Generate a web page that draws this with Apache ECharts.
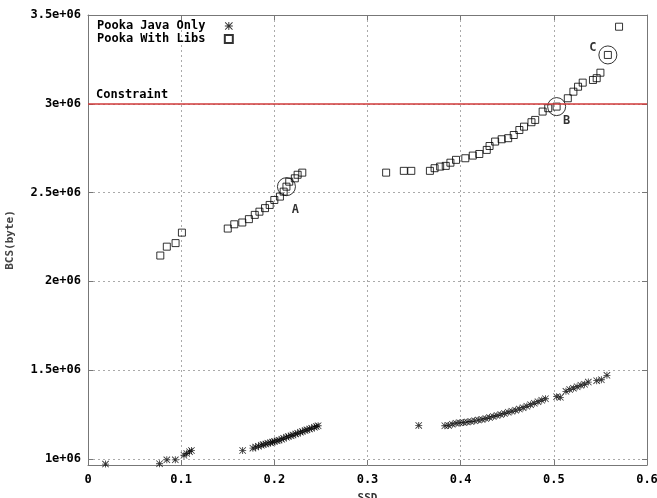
<!DOCTYPE html>
<html>
<head>
<meta charset="utf-8">
<script src="https://cdn.jsdelivr.net/npm/echarts@6.0.0/dist/echarts.min.js"></script>
<style>
html, body {margin:0; padding:0; background:#fff;}
#main {width:657px; height:498px;}
</style>
</head>
<body>
<div id="main"></div>
<script>
// Pooka Java Only (stars)
var javaOnlyX = [0.0188, 0.0768, 0.0846, 0.0937, 0.103, 0.106, 0.109, 0.111, 0.166,
	0.177, 0.180, 0.183, 0.186, 0.188, 0.191, 0.193, 0.196, 0.198, 0.200, 0.203, 0.205, 0.208, 0.210,
	0.213, 0.215, 0.218, 0.220, 0.223, 0.225, 0.228, 0.230, 0.233, 0.235, 0.238, 0.240, 0.243, 0.245, 0.247,
	0.355, 0.383, 0.387, 0.391, 0.395, 0.399, 0.403, 0.407, 0.411, 0.415, 0.419, 0.423, 0.427, 0.431,
	0.435, 0.439, 0.443, 0.447, 0.451, 0.455, 0.459, 0.463, 0.467, 0.471, 0.475, 0.479, 0.483, 0.487,
	0.491, 0.503, 0.507, 0.513, 0.517, 0.521, 0.525, 0.529, 0.533, 0.537, 0.546, 0.551, 0.557];
var javaOnlyY = [970000, 972000, 994000, 994000, 1020000, 1030000, 1040000, 1047000, 1047000,
	1060000, 1066000, 1070000, 1076000, 1080000, 1083000, 1088000, 1091000, 1094000, 1097000, 1101000, 1105000, 1110000, 1115000,
	1121000, 1125000, 1130000, 1134000, 1140000, 1144000, 1150000, 1154000, 1160000, 1163000, 1168000, 1172000, 1178000, 1182000, 1186000,
	1188000, 1186000, 1188000, 1195000, 1200000, 1203000, 1205000, 1207000, 1210000, 1214000, 1218000, 1222000, 1227000, 1232000,
	1238000, 1244000, 1250000, 1255000, 1262000, 1268000, 1274000, 1280000, 1288000, 1296000, 1305000, 1313000, 1322000, 1330000,
	1338000, 1350000, 1346000, 1380000, 1390000, 1398000, 1406000, 1414000, 1420000, 1432000, 1440000, 1445000, 1470000];

// Pooka With Libs (squares)
var withLibsX = [0.0776, 0.0846, 0.094, 0.1008,
	0.150, 0.157, 0.1656, 0.1727, 0.179, 0.184, 0.190, 0.195, 0.200, 0.206, 0.210, 0.213, 0.216, 0.222, 0.225, 0.230,
	0.320, 0.339, 0.347, 0.367, 0.372, 0.378, 0.384, 0.389, 0.395, 0.405, 0.413, 0.420, 0.428, 0.431, 0.437,
	0.444, 0.451, 0.457, 0.463, 0.468, 0.476, 0.480, 0.488, 0.494, 0.503, 0.515, 0.521, 0.526, 0.531,
	0.542, 0.546, 0.550, 0.558, 0.570];
var withLibsY = [2145000, 2195000, 2215000, 2274000,
	2297000, 2321000, 2331000, 2350000, 2374000, 2392000, 2412000, 2430000, 2458000, 2477000, 2505000, 2533000, 2561000, 2580000, 2600000, 2612000,
	2612000, 2622000, 2622000, 2622000, 2637000, 2646000, 2650000, 2668000, 2684000, 2693000, 2708000, 2717000, 2740000, 2762000, 2787000,
	2800000, 2806000, 2824000, 2852000, 2871000, 2896000, 2909000, 2956000, 2975000, 2984000, 3031000, 3068000, 3096000, 3119000,
	3134000, 3144000, 3175000, 3275000, 3434000];

// circled points
var markX = [0.213, 0.503, 0.558];
var markY = [2533000, 2984000, 3275000];
var markNames = ['A', 'B', 'C'];
var markLabelOffset = [[9, 23], [10, 14], [-15, -7]];

var yTicks = [1000000, 1500000, 2000000, 2500000, 3000000, 3500000];
var constraintValue = 3000000;

var monoFont = 'DejaVu Sans Mono';

function zip(xs, ys) {
	var out = [];
	for (var i = 0; i < xs.length; i++) {
		out.push([xs[i], ys[i]]);
	}
	return out;
}

function yLabel(v) {
	var m = v / 1000000;
	return m + 'e+06';
}

// asterisk made from 4 thin bars
var starPath = 'path://M0,4.4L10,4.4L10,5.6L0,5.6Z M4.4,0L5.6,0L5.6,10L4.4,10Z M0.8,0L10,9.2L9.2,10L0,0.8Z M9.2,0L10,0.8L0.8,10L0,9.2Z';

var markData = [];
for (var i = 0; i < markX.length; i++) {
	markData.push({
		value: [markX[i], markY[i]],
		name: markNames[i],
		label: {offset: markLabelOffset[i]}
	});
}

var chart = echarts.init(document.getElementById('main'));
var axisLineStyle = {color: '#777', width: 1};
var gridLineStyle = {color: '#aaa', type: [2, 3], width: 1};

chart.setOption({
	backgroundColor: '#fff',
	animation: false,
	grid: {left: 88, right: 10, top: 15, bottom: 33, containLabel: false, outerBoundsMode: 'none'},
	legend: {
		data: ['Pooka Java Only', 'Pooka With Libs'],
		orient: 'vertical',
		left: 92,
		top: 15,
		align: 'right',
		itemGap: 1,
		itemWidth: 8,
		itemHeight: 8,
		formatter: function (n) { return n + '  '; },
		textStyle: {fontFamily: monoFont, fontSize: 12, fontWeight: 'bold', color: '#000'}
	},
	xAxis: [{
		type: 'value',
		min: 0,
		max: 0.6,
		interval: 0.1,
		name: 'SSD',
		nameLocation: 'middle',
		nameGap: 28,
		nameTextStyle: {fontFamily: monoFont, fontSize: 11, fontWeight: 'bold', color: '#333'},
		axisLine: {show: true, lineStyle: axisLineStyle},
		axisTick: {show: true, inside: true, length: 5, lineStyle: axisLineStyle},
		axisLabel: {
			margin: 9,
			fontFamily: monoFont, fontSize: 12, fontWeight: 'bold', color: '#000',
			formatter: function (v) { return v === 0 ? '0' : v.toFixed(1); }
		},
		splitLine: {show: true, lineStyle: gridLineStyle}
	}, {
		type: 'value',
		position: 'top',
		min: 0,
		max: 0.6,
		interval: 0.1,
		axisLine: {show: true, onZero: false, lineStyle: axisLineStyle},
		axisTick: {show: true, inside: true, length: 5, lineStyle: axisLineStyle},
		axisLabel: {show: false},
		splitLine: {show: false}
	}],
	yAxis: [{
		type: 'value',
		min: 965000,
		max: 3500000,
		name: 'BCS(byte)',
		nameLocation: 'middle',
		nameGap: 72,
		nameTextStyle: {fontFamily: monoFont, fontSize: 11, fontWeight: 'bold', color: '#444'},
		axisLine: {show: true, onZero: false, lineStyle: axisLineStyle},
		axisTick: {show: true, inside: true, length: 5, customValues: yTicks, lineStyle: axisLineStyle},
		axisLabel: {
			customValues: yTicks,
			margin: 7,
			fontFamily: monoFont, fontSize: 12, fontWeight: 'bold', color: '#000',
			formatter: yLabel
		},
		splitLine: {show: true, lineStyle: gridLineStyle}
	}, {
		type: 'value',
		position: 'right',
		min: 965000,
		max: 3500000,
		axisLine: {show: true, onZero: false, lineStyle: axisLineStyle},
		axisTick: {show: true, inside: true, length: 5, customValues: yTicks, lineStyle: axisLineStyle},
		axisLabel: {show: false, customValues: yTicks},
		splitLine: {show: false}
	}],
	series: [{
		name: 'Pooka Java Only',
		type: 'scatter',
		symbol: starPath,
		symbolSize: 7,
		itemStyle: {color: '#000'},
		data: zip(javaOnlyX, javaOnlyY)
	}, {
		name: 'Pooka With Libs',
		type: 'scatter',
		symbol: 'rect',
		symbolSize: 7,
		itemStyle: {color: 'rgba(255,255,255,0)', borderColor: '#000', borderWidth: 1},
		data: zip(withLibsX, withLibsY),
		markLine: {
			silent: true,
			symbol: ['none', 'none'],
			lineStyle: {color: '#d03a3a', type: 'solid', width: 1.5},
			label: {
				show: true,
				position: 'insideStartTop',
				distance: [0, 3],
				offset: [8, 0],
				formatter: 'Constraint',
				fontFamily: monoFont, fontSize: 12, fontWeight: 'bold', color: '#000'
			},
			data: [{yAxis: constraintValue}]
		}
	}, {
		name: 'marks',
		type: 'scatter',
		symbol: 'circle',
		symbolSize: 18,
		silent: true,
		itemStyle: {color: 'rgba(255,255,255,0)', borderColor: '#000', borderWidth: 1},
		label: {
			show: true,
			position: 'inside',
			formatter: '{b}',
			fontFamily: monoFont, fontSize: 12, fontWeight: 'bold', color: '#000'
		},
		data: markData
	}]
});
</script>
</body>
</html>
